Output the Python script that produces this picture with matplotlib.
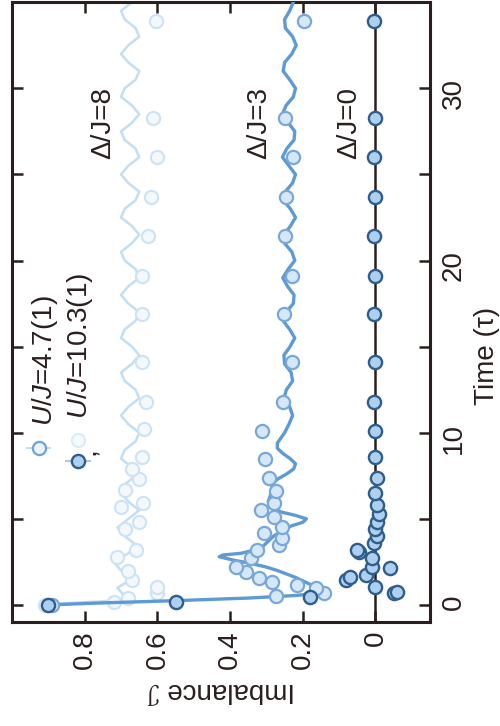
import matplotlib.pyplot as plt

plt.rcParams['font.family'] = ['Liberation Sans', 'DejaVu Sans']
plt.rcParams['mathtext.fontset'] = 'custom'
plt.rcParams['mathtext.it'] = 'Liberation Sans:italic'
plt.rcParams['mathtext.rm'] = 'Liberation Sans'

# measured imbalance, Delta/J = 0
t_d0 = [0, 0.17, 0.47, 0.7, 0.77, 1.05, 1.45, 1.6, 1.75, 2.15, 2.2, 2.7, 3.1, 3.2,
        3.6, 4.0, 4.4, 4.8, 5.3, 5.8, 6.5, 7.4, 8.6, 10.1, 11.8, 14.1, 16.9, 19.1,
        21.4, 23.7, 26.0, 28.3, 33.9]
imb_d0 = [0.90, 0.55, 0.18, -0.05, -0.06, 0.0, 0.08, 0.07, 0.025, -0.04, 0.01, 0.01,
          0.045, 0.05, 0.005, -0.005, 0.0, -0.005, -0.01, -0.005, 0.0, -0.005, 0.0,
          0.0, 0.005, 0.0, 0.005, 0.0, 0.005, 0.0, 0.005, 0.0, 0.005]

# measured imbalance, Delta/J = 3
t_d3 = [0, 0.5, 0.7, 1.0, 1.15, 1.35, 1.55, 1.9, 2.2, 2.7, 3.2, 3.5, 3.9, 4.2, 4.5,
        5.1, 5.5, 5.9, 6.6, 7.4, 8.5, 10.1, 11.8, 14.1, 16.9, 19.1, 21.4, 23.7,
        26.0, 28.3, 33.9]
imb_d3 = [0.89, 0.273, 0.141, 0.163, 0.215, 0.284, 0.32, 0.356, 0.384, 0.342, 0.325,
          0.265, 0.257, 0.306, 0.257, 0.279, 0.315, 0.279, 0.273, 0.292, 0.303,
          0.312, 0.254, 0.229, 0.251, 0.229, 0.248, 0.246, 0.226, 0.248, 0.196]

# measured imbalance, Delta/J = 8
t_d8 = [0, 0.17, 0.4, 0.7, 1.05, 1.45, 2.0, 2.8, 3.2, 4.4, 4.8, 5.7, 5.9, 6.7, 7.3,
        7.9, 8.6, 10.2, 11.8, 14.1, 16.9, 19.1, 21.4, 23.7, 26.0, 28.3, 33.9]
imb_d8 = [0.91, 0.72, 0.68, 0.60, 0.60, 0.67, 0.68, 0.71, 0.66, 0.69, 0.65, 0.70,
          0.64, 0.69, 0.65, 0.67, 0.643, 0.637, 0.63, 0.643, 0.643, 0.643, 0.626,
          0.618, 0.601, 0.612, 0.604]

# theory, Delta/J = 3
t_th3 = [0, 0.1, 0.25, 0.4, 0.55, 0.7, 0.85, 1.0, 1.2, 1.4, 1.6, 1.8, 2.0, 2.2, 2.4,
         2.6, 2.8, 2.9, 3.0, 3.2, 3.4, 3.6, 3.8, 4.0, 4.2, 4.4, 4.6, 4.8, 5.0, 5.2,
         5.4, 5.6, 5.8, 6.0, 6.3, 6.6, 7.0, 7.3, 7.6, 7.9, 8.2, 8.5, 8.8, 9.1, 9.4,
         9.7, 10.0,
         10.5, 11, 11.5, 12, 12.5, 13, 13.5, 14, 14.5, 15, 15.5, 16, 16.5, 17, 17.5,
         18, 18.5, 19, 19.5, 20, 20.5, 21, 21.5, 22, 22.5, 23, 23.5, 24, 24.5, 25,
         25.5, 26, 26.5, 27, 27.5, 28, 28.5, 29, 29.5, 30, 30.5, 31, 31.5, 32, 32.5,
         33, 33.5, 34, 34.5, 35]
imb_th3 = [0.90, 0.78, 0.55, 0.35, 0.22, 0.15, 0.13, 0.15, 0.18, 0.20, 0.22, 0.245,
           0.27, 0.30, 0.34, 0.39, 0.43, 0.42, 0.37, 0.33, 0.31, 0.30, 0.29, 0.28,
           0.265, 0.25, 0.23, 0.20, 0.19, 0.22, 0.26, 0.28, 0.29, 0.295, 0.29, 0.285,
           0.285, 0.27, 0.245, 0.225, 0.22, 0.235, 0.255, 0.27, 0.27, 0.26, 0.25,
           0.238, 0.228, 0.236, 0.252, 0.245, 0.228, 0.232, 0.25, 0.252, 0.235, 0.222,
           0.236, 0.254, 0.246, 0.226, 0.224, 0.242, 0.255, 0.24, 0.222, 0.23, 0.25,
           0.252, 0.234, 0.22, 0.234, 0.254, 0.248, 0.228, 0.22, 0.238, 0.256, 0.244,
           0.224, 0.222, 0.24, 0.256, 0.246, 0.226, 0.22, 0.236, 0.254, 0.25, 0.23,
           0.218, 0.228, 0.248, 0.25, 0.236, 0.226]

# theory, Delta/J = 8
t_th8 = [0, 0.1, 0.2, 0.3,
         0.5, 1.0, 1.5, 2.0, 2.5, 3.0, 3.5, 4.0, 4.5, 5.0, 5.5, 6.0, 6.5, 7.0, 7.5,
         8.0, 8.5, 9.0, 9.5, 10.0, 10.5, 11.0, 11.5, 12.0, 12.5, 13.0, 13.5, 14.0,
         14.5, 15.0, 15.5, 16.0, 16.5, 17.0, 17.5, 18.0, 18.5, 19.0, 19.5, 20.0,
         20.5, 21.0, 21.5, 22.0, 22.5, 23.0, 23.5, 24.0, 24.5, 25.0, 25.5, 26.0,
         26.5, 27.0, 27.5, 28.0, 28.5, 29.0, 29.5, 30.0, 30.5, 31.0, 31.5, 32.0,
         32.5, 33.0, 33.5, 34.0, 34.5, 35.0]
imb_th8 = [0.90, 0.86, 0.76, 0.70,
           0.69, 0.71, 0.67, 0.70, 0.72, 0.68, 0.66, 0.69, 0.71, 0.68, 0.65, 0.68,
           0.70, 0.69, 0.66, 0.67, 0.70, 0.69, 0.66, 0.65, 0.68, 0.70, 0.68, 0.65,
           0.66, 0.69, 0.70, 0.67, 0.65, 0.67, 0.70, 0.69, 0.66, 0.65, 0.68, 0.70,
           0.68, 0.65, 0.66, 0.69, 0.70, 0.67, 0.65, 0.67, 0.70, 0.69, 0.66, 0.65,
           0.68, 0.70, 0.68, 0.65, 0.66, 0.69, 0.70, 0.67, 0.65, 0.67, 0.70, 0.69,
           0.66, 0.65, 0.68, 0.70, 0.68, 0.65, 0.66, 0.69, 0.70, 0.67]

time_ticks = [0, 5, 10, 15, 20, 25, 30]
time_labels = ['0', '', '10', '', '20', '', '30']
imb_ticks = [0, 0.2, 0.4, 0.6, 0.8]
imb_labels = ['0', '0.2', '0.4', '0.6', '0.8']

dark = '#2a1e1e'
fs = 20

fig = plt.figure(figsize=(5, 7.26), dpi=100)
ax = fig.add_axes([0.024, 0.143, 0.836, 0.854])

# time runs up the page, imbalance grows to the left
ax.plot(imb_th8, t_th8, color='#c3def4', lw=1.8, zorder=2)
ax.plot(imb_d8, t_d8, 'o', ms=9.5, mfc='#f3f8fd', mec='#cde2f4', mew=1.5, zorder=3)

ax.plot(imb_th3, t_th3, color='#5e9ad6', lw=2.4, zorder=4, solid_joinstyle='round')
ax.plot(imb_d3, t_d3, 'o', ms=9.5, mfc='#d5e8f8', mec='#79a8d8', mew=1.6, zorder=5)

ax.axvline(0, color=dark, lw=1.8, zorder=6)
ax.plot(imb_d0, t_d0, 'o', ms=9.5, mfc='#aed0ef', mec='#2f5e8c', mew=1.7, zorder=7)

# legend drawn by hand
ax.errorbar([0.927], [9.09], xerr=[0.035], fmt='o', ms=9.5, mfc='#eaf3fc', mec='#6fa3d6',
            mew=1.6, ecolor='#b9d4ee', elinewidth=1.2, zorder=8)
ax.errorbar([0.819], [8.33], xerr=[0.035], fmt='o', ms=9.5, mfc='#aed0ef', mec='#2f5e8c',
            mew=1.7, ecolor='#9cbfe0', elinewidth=1.2, zorder=8)
ax.plot([0.819], [9.6], 'o', ms=9.5, mfc='#f7fafd', mec='#dbe9f5', mew=1.4, zorder=8)
ax.text(0.79, 8.95, ',', fontsize=fs, rotation=90, ha='center', va='center', color=dark)
ax.text(0.91, 10.37, '$U/J$=4.7(1)', fontsize=fs, rotation=90, rotation_mode='anchor',
        ha='left', va='center', color=dark)
ax.text(0.814, 10.8, '$U/J$=10.3(1)', fontsize=fs, rotation=90, rotation_mode='anchor',
        ha='left', va='center', color=dark)

for x, lab in [(0.748, 'Δ/J=8'), (0.32, 'Δ/J=3'), (0.072, 'Δ/J=0')]:
    ax.text(x, 28.0, lab, fontsize=fs, rotation=90, ha='center', va='center', color=dark)

ax.set_xlim(1.0, -0.15)
ax.set_ylim(-1, 35)
ax.set_xticks(imb_ticks)
ax.set_xticklabels(imb_labels, rotation=90)
ax.set_yticks(time_ticks)
ax.set_yticklabels(time_labels, rotation=90)
ax.yaxis.tick_right()
ax.tick_params(axis='both', direction='in', length=8, width=1.8, color=dark,
               labelsize=fs, labelcolor=dark, top=True, bottom=True, left=True, right=True)
ax.tick_params(axis='x', pad=6)
ax.tick_params(axis='y', pad=8)
for sp in ax.spines.values():
    sp.set_linewidth(2.2)
    sp.set_color(dark)

ax.set_xlabel('Imbalance ℐ', fontsize=fs, rotation=180, color=dark, labelpad=6)
ax.yaxis.set_label_position('right')
ax.set_ylabel('Time (τ)', fontsize=fs, rotation=90, color=dark)
ax.yaxis.set_label_coords(1.105, 0.43)

fig.savefig('out.png', dpi=100)
